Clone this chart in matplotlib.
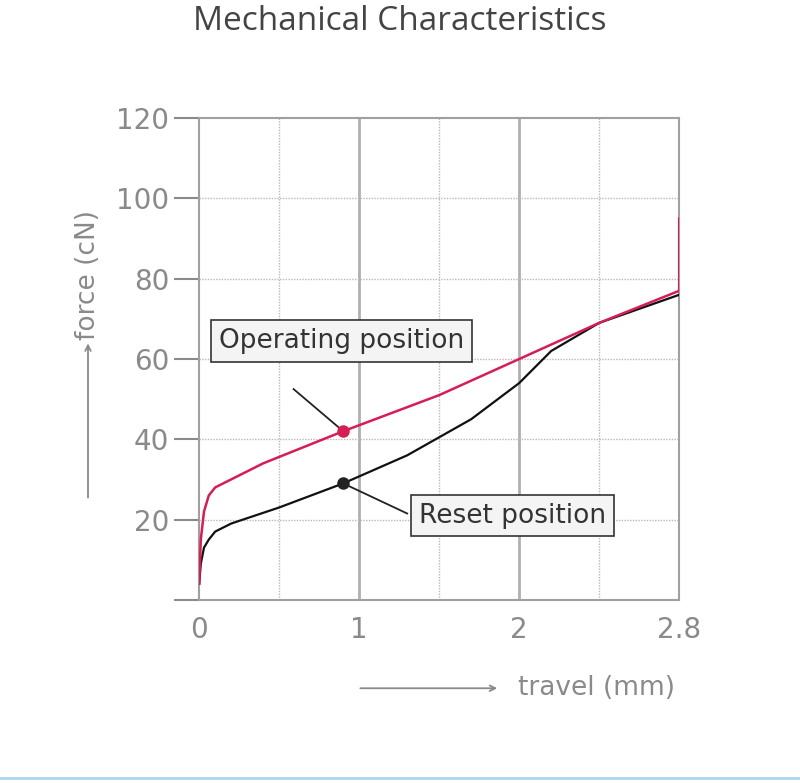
import matplotlib
matplotlib.use("Agg")
import matplotlib.pyplot as plt
from matplotlib.lines import Line2D
import numpy as np

title = "Mechanical Characteristics"
op_x = [0, 0.01, 0.03, 0.06, 0.1, 0.2, 0.4, 0.9, 1.5, 2.0, 2.5, 2.8, 2.8]
op_y = [4, 15, 22, 26, 28, 30, 34, 42, 51, 60, 69, 77, 95]
rs_x = [0, 0.01, 0.03, 0.06, 0.1, 0.2, 0.5, 0.9, 1.3, 1.7, 2.0, 2.2, 2.5, 2.8]
rs_y = [4, 9, 13, 15, 17, 19, 23, 29, 36, 45, 54, 62, 69, 76]
op_pt = (0.9, 42)
rs_pt = (0.9, 29)
xticks = [0, 1, 2, 2.8]
xticklabels = ["0", "1", "2", "2.8"]
yticks = [0, 20, 40, 60, 80, 100, 120]
yticklabels = ["", "20", "40", "60", "80", "100", "120"]

def fwd(x):
    x = np.asarray(x, dtype=float)
    return np.where(x <= 2.5, x, 2.5 + (x - 2.5) * (0.5 / 0.3))
def inv(u):
    u = np.asarray(u, dtype=float)
    return np.where(u <= 2.5, u, 2.5 + (u - 2.5) * (0.3 / 0.5))

narrow = ["Liberation Sans Narrow", "DejaVu Sans"]
gray = "#8a8a8a"
fig = plt.figure(figsize=(8, 7.83), dpi=100)
ax = fig.add_axes([0.249, 0.234, 0.6, 0.615])
ax.set_xscale("function", functions=(fwd, inv))
ax.set_xlim(0, 2.8); ax.set_ylim(0, 120)
for v in [1, 2]:
    ax.axvline(v, color="#b0b0b0", lw=2, zorder=0)
for v in [0.5, 1.5, 2.5]:
    ax.axvline(v, color="#b8b8b8", lw=1, ls=(0, (1, 1)), zorder=0)
for v in [20, 40, 60, 80, 100]:
    ax.axhline(v, color="#b8b8b8", lw=1, ls=(0, (1, 1)), zorder=0)
for s in ax.spines.values():
    s.set_color("#a0a0a0"); s.set_linewidth(1.5)
ax.set_xticks(xticks); ax.set_xticklabels(xticklabels, family=narrow)
ax.set_yticks(yticks); ax.set_yticklabels(yticklabels, family=narrow)
ax.xaxis.set_minor_locator(matplotlib.ticker.NullLocator())
ax.tick_params(colors=gray, labelsize=20, length=18, width=1.5, direction="out")
ax.tick_params(axis="x", length=0, pad=12)
ax.plot(rs_x, rs_y, color="#111111", lw=1.6, zorder=3)
ax.plot(op_x, op_y, color="#d61e55", lw=1.8, zorder=3)
ax.plot(*op_pt, "o", color="#d61e55", ms=8, zorder=4)
ax.plot(*rs_pt, "o", color="#222222", ms=8, zorder=4)
bbox = dict(boxstyle="square,pad=0.3", fc="#f4f4f4", ec="#333333", lw=1.2)
ax.text(0.89, 64.5, "Operating position", fontsize=19, color="#333333", family=narrow,
        ha="center", va="center", bbox=bbox)
ax.add_line(Line2D([0.59, 0.9], [52.5, 42], color="#222222", lw=1.3))
ax.text(1.96, 21, "Reset position", fontsize=19, color="#333333", family=narrow,
        ha="center", va="center", bbox=bbox)
ax.add_line(Line2D([0.9, 1.3], [29, 21.5], color="#222222", lw=1.3))
fig.text(0.5, 0.973, title, ha="center", va="center", fontsize=24, color="#444444", family="Open Sans")
fig.text(0.746, 0.121, "travel (mm)", ha="center", va="center", fontsize=19, color=gray, family=narrow)
fig.text(0.11, 0.649, "force (cN)", ha="center", va="center", fontsize=19, color=gray, rotation=90, family=narrow)
fig.add_artist(plt.Annotation("", xy=(0.625, 0.121), xytext=(0.447, 0.121), xycoords="figure fraction",
               arrowprops=dict(arrowstyle="->", color=gray, lw=1.3)))
fig.add_artist(plt.Annotation("", xy=(0.11, 0.565), xytext=(0.11, 0.361), xycoords="figure fraction",
               arrowprops=dict(arrowstyle="->", color=gray, lw=1.3)))
fig.add_artist(Line2D([0, 1], [0.007, 0.007], color="#a8d8f0", lw=2, transform=fig.transFigure))
fig.savefig("out.png", dpi=100)
